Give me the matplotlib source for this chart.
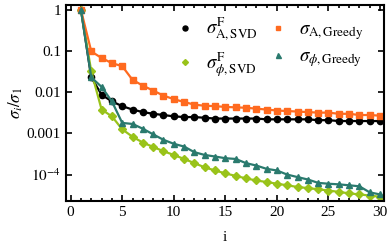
import numpy as np
import matplotlib
matplotlib.use("Agg")
import matplotlib.pyplot as plt
from matplotlib.ticker import FixedLocator, FixedFormatter, MultipleLocator, NullLocator
from matplotlib.lines import Line2D

plt.rcParams['font.family'] = ['Liberation Serif', 'DejaVu Serif']
plt.rcParams['mathtext.fontset'] = 'stix'

i_vals = list(range(1, 31))

a_svd = [1, 0.023, 0.0087, 0.006, 0.0046, 0.0038, 0.0033, 0.0030, 0.0028, 0.0026,
         0.0025, 0.0025, 0.0024, 0.0023, 0.0023, 0.0023, 0.0023, 0.0023, 0.0022, 0.0022,
         0.0022, 0.0022, 0.0022, 0.0021, 0.0021, 0.0020, 0.0020, 0.0020, 0.0020, 0.0020]
a_greedy = [1, 0.098, 0.068, 0.051, 0.043, 0.020, 0.0145, 0.011, 0.0083, 0.0068,
            0.0058, 0.0050, 0.0047, 0.0046, 0.0044, 0.0043, 0.0042, 0.0040, 0.0038, 0.0036,
            0.0035, 0.0034, 0.0033, 0.0032, 0.0032, 0.0030, 0.0030, 0.0028, 0.0028, 0.0027]
phi_svd = [1, 0.032, 0.0038, 0.0026, 0.00126, 0.00083, 0.0006, 0.00047, 0.00037, 0.0003,
           0.00024, 0.00019, 0.00015, 0.000126, 0.000107, 9.3e-5, 8.1e-5, 7.2e-5, 6.6e-5, 6.0e-5,
           5.5e-5, 5.0e-5, 4.7e-5, 4.4e-5, 4.1e-5, 3.8e-5, 3.5e-5, 3.3e-5, 3.1e-5, 2.9e-5]
phi_greedy = [1, 0.023, 0.0135, 0.006, 0.0018, 0.0017, 0.0013, 0.00095, 0.0007, 0.00056,
              0.00048, 0.00035, 0.0003, 0.000275, 0.00025, 0.00024, 0.00019, 0.000166, 0.000138, 0.000126,
              0.0001, 8.7e-5, 7.6e-5, 6.3e-5, 6.0e-5, 5.8e-5, 5.5e-5, 5.2e-5, 3.7e-5, 3.3e-5]

ytick_vals = [1, 0.1, 0.01, 0.001, 1e-4]
ytick_labels = ['1', '0.1', '0.01', '0.001', r'$10^{-4}$']

fig = plt.figure(figsize=(3.9, 2.48), dpi=100)
ax = fig.add_axes([0.169, 0.19, 0.816, 0.79])

c_black = '#000000'
c_orange = '#FF6A1F'
c_green = '#99C31A'
c_teal = '#2A7A6E'

lw = 1.6
ax.plot(i_vals, a_svd, '-o', color=c_black, lw=lw, ms=4.5)
ax.plot(i_vals, phi_svd, '-D', color=c_green, lw=lw, ms=3.8)
ax.plot(i_vals, a_greedy, '-s', color=c_orange, lw=lw, ms=4.2)
ax.plot(i_vals, phi_greedy, '-^', color=c_teal, lw=lw, ms=4.5)

ax.set_yscale('log')
ax.set_ylim(2.3e-5, 1.32)
ax.set_xlim(-0.46, 30.4)
ax.yaxis.set_major_locator(FixedLocator(ytick_vals))
ax.yaxis.set_major_formatter(FixedFormatter(ytick_labels))
ax.yaxis.set_minor_locator(NullLocator())
ax.xaxis.set_major_locator(MultipleLocator(5))
ax.xaxis.set_minor_locator(MultipleLocator(1))

ax.tick_params(which='both', direction='in', top=True, right=True, labelsize=11, width=1.2)
ax.tick_params(which='major', length=4)
ax.tick_params(which='minor', length=2.2)
for s in ax.spines.values():
    s.set_linewidth(1.5)

ax.set_xlabel('i', fontsize=11, labelpad=9)
ax.set_ylabel(r'$\sigma_i/\sigma_1$', fontsize=12, labelpad=1)

def mk(marker, color, ms):
    return Line2D([], [], ls='none', marker=marker, color=color, ms=ms)

handles = [mk('o', c_black, 3.6), mk('D', c_green, 3.0), mk('s', c_orange, 3.4), mk('^', c_teal, 3.6)]
labels = [r'$\sigma^{\mathrm{F}}_{\mathrm{A,SVD}}$', r'$\sigma^{\mathrm{F}}_{\phi,\mathrm{SVD}}$',
          r'$\sigma_{\mathrm{A,Greedy}}$', r'$\sigma_{\phi,\mathrm{Greedy}}$']
ax.legend(handles, labels, ncol=2, frameon=False, fontsize=13.5, loc='upper right',
          bbox_to_anchor=(0.97, 1.0), handlelength=1.0, handletextpad=0.6,
          columnspacing=0.6, labelspacing=0.35, borderaxespad=0.2)

fig.savefig('out.png', dpi=100)
